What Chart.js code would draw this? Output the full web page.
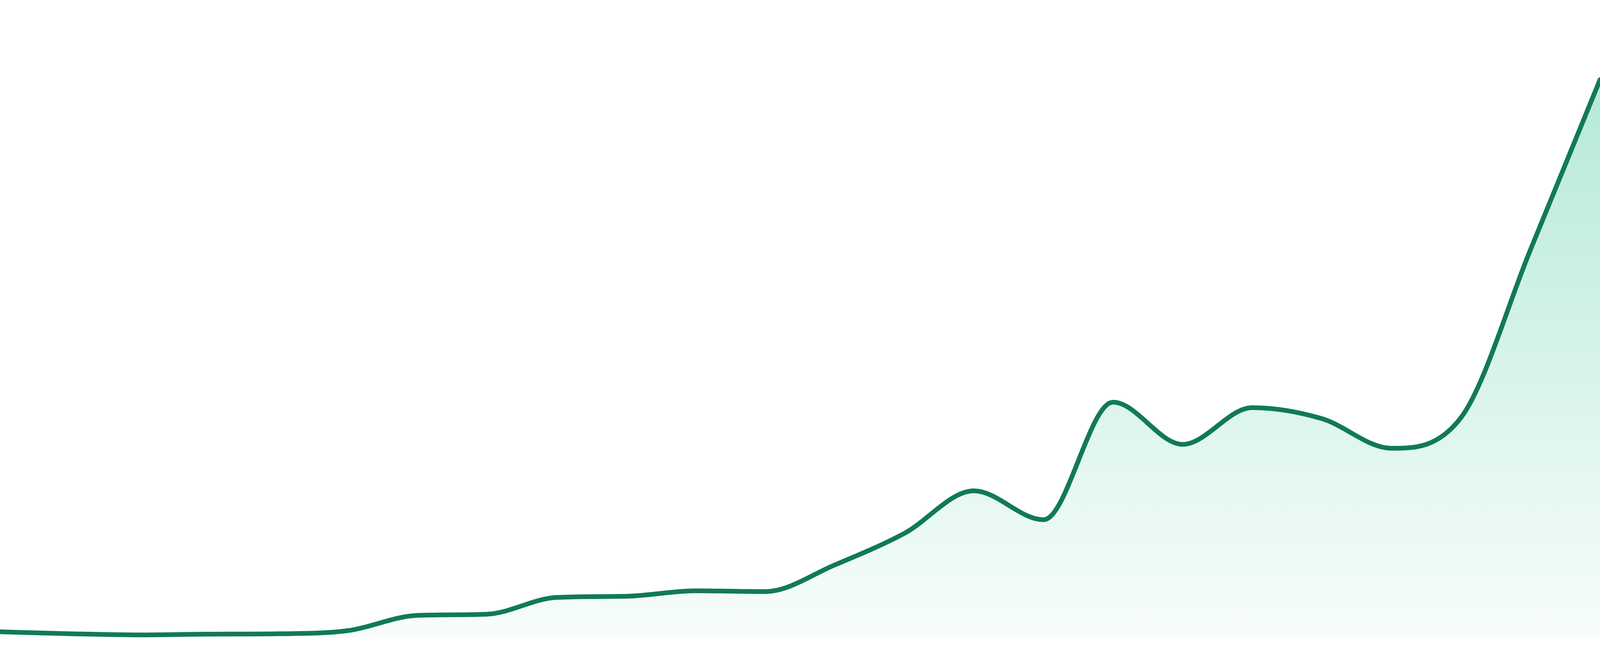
<!DOCTYPE html>
<html>
<head>
<meta charset="utf-8">
<script src="https://cdn.jsdelivr.net/npm/chart.js@4"></script>
<style>
  html, body { margin: 0; padding: 0; background: #ffffff; overflow: hidden; }
  #wrap { position: relative; width: 100vw; height: 100vh; }
</style>
</head>
<body>
<div id="wrap"><canvas id="c"></canvas></div>
<script>
const labels = ['1','2','3','4','5','6','7','8','9','10','11','12','13','14','15','16','17','18','19','20','21','22','23','24'];
const values = [0.86, 0.55, 0.37, 0.49, 0.55, 1.04, 3.43, 3.62, 6.25, 6.43, 7.29, 7.17, 11.35, 16.3, 22.98, 18.44, 36.89, 30.27, 36.03, 34.31, 29.66, 34.44, 60.8, 87.5];
const yMin = 0;
const yMax = 100;

const lineColor = '#117b52';

new Chart(document.getElementById('c'), {
  type: 'line',
  data: {
    labels: labels,
    datasets: [{
      data: values,
      borderColor: lineColor,
      borderWidth: 12,
      cubicInterpolationMode: 'monotone',
      pointRadius: 0,
      pointHoverRadius: 0,
      fill: 'start',
      clip: 0,
      borderCapStyle: 'round',
      borderJoinStyle: 'round',
      backgroundColor: (ctx) => {
        const chart = ctx.chart;
        const area = chart.chartArea;
        if (!area) return 'rgba(16,185,129,0.15)';
        const g = chart.ctx.createLinearGradient(0, area.top, 0, area.bottom);
        g.addColorStop(0, 'rgba(16,185,129,0.35)');
        g.addColorStop(1, 'rgba(16,185,129,0.03)');
        return g;
      }
    }]
  },
  options: {
    responsive: true,
    maintainAspectRatio: false,
    animation: false,
    layout: { padding: { left: 0, right: 0, top: 0, bottom: 48 } },
    plugins: { legend: { display: false }, tooltip: { enabled: false } },
    scales: {
      x: { display: false, offset: false },
      y: { display: false, min: yMin, max: yMax }
    }
  }
});
</script>
</body>
</html>
